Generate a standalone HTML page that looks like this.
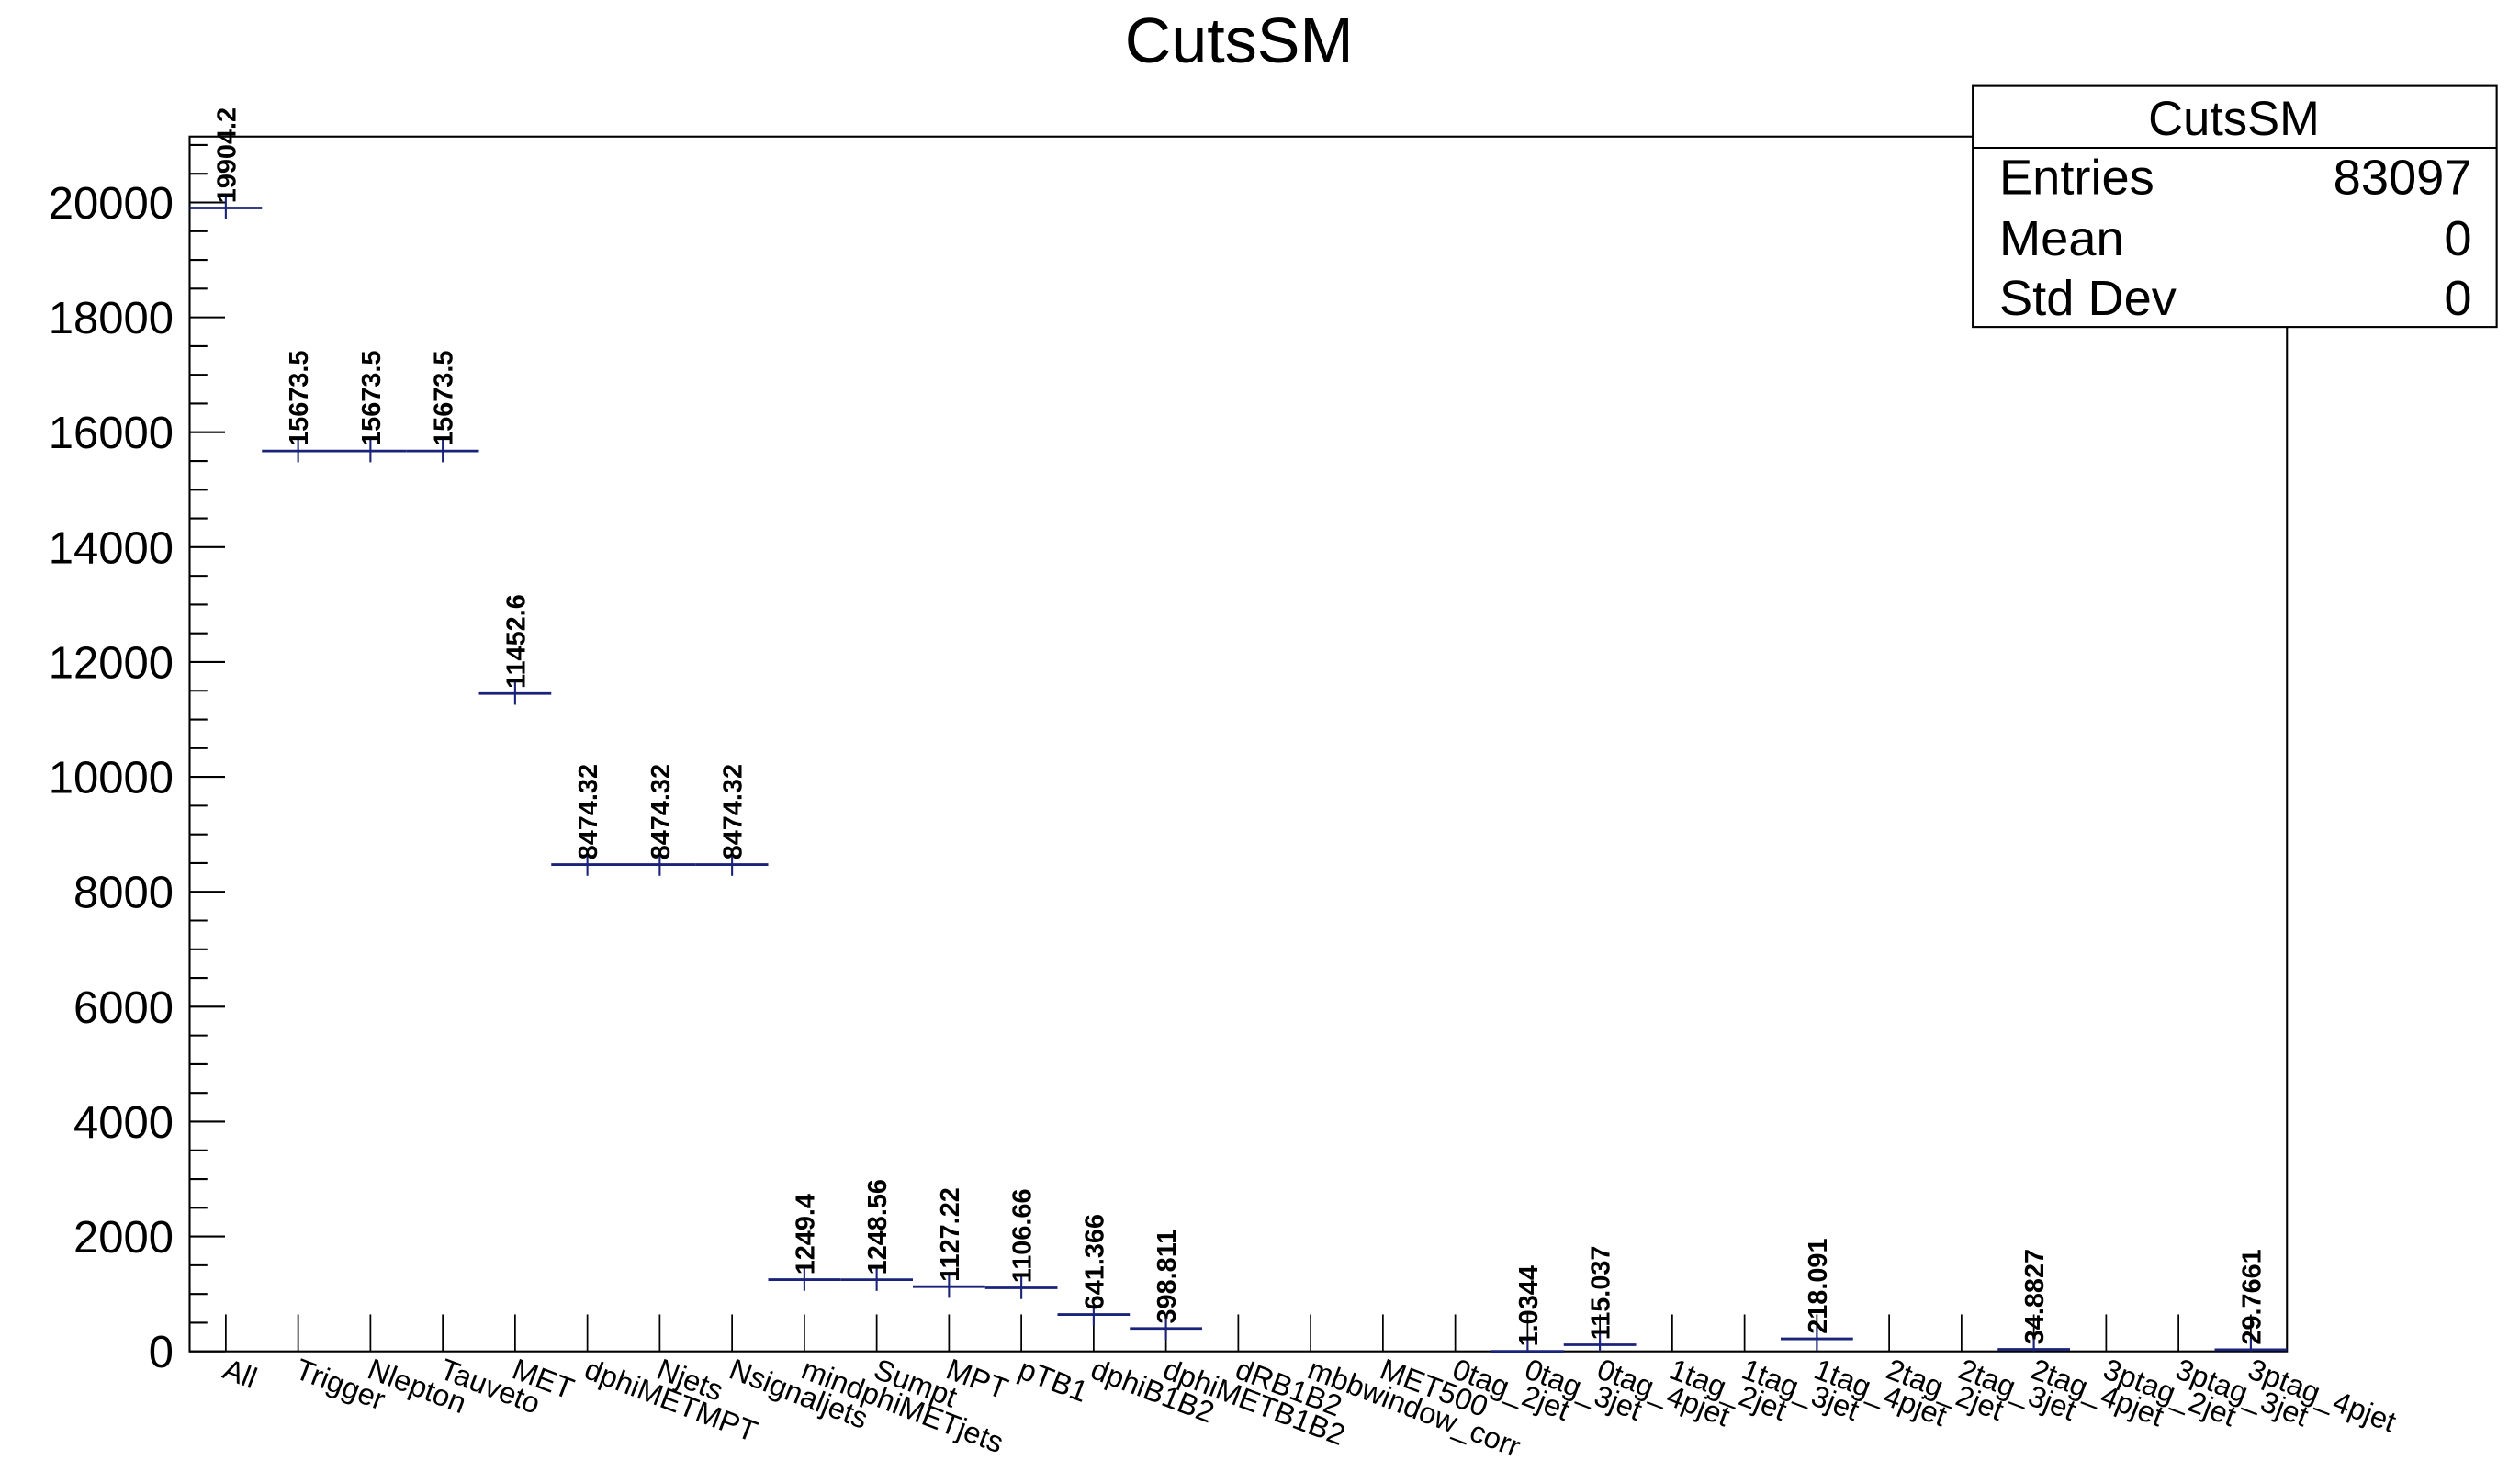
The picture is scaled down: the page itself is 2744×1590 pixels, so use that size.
<!DOCTYPE html>
<html><head><meta charset="utf-8"><style>
html,body{margin:0;padding:0;background:#fff;}
svg{display:block;}
text{font-family:"Liberation Sans",Arial,sans-serif;}
</style></head><body>
<svg id="chart" width="2744" height="1590" viewBox="0 0 1568 908.6" preserveAspectRatio="none" xmlns="http://www.w3.org/2000/svg">
<rect x="0" y="0" width="1568" height="909" fill="#fff"/>
<text x="771" y="39" font-size="40" text-anchor="middle">CutsSM</text>
<g id="plot"></g>
<g>
<rect x="1227.5" y="53.5" width="326" height="150" fill="#fff" stroke="#000" stroke-width="1.2"/>
<line x1="1227.5" y1="92" x2="1553.5" y2="92" stroke="#000" stroke-width="1.2"/>
<text x="1390" y="84" font-size="30" text-anchor="middle">CutsSM</text>
<text x="1244" y="121" font-size="31">Entries</text>
<text x="1538" y="121" font-size="31" text-anchor="end">83097</text>
<text x="1244" y="159" font-size="31">Mean</text>
<text x="1538" y="159" font-size="31" text-anchor="end">0</text>
<text x="1244" y="196" font-size="31">Std Dev</text>
<text x="1538" y="196" font-size="31" text-anchor="end">0</text>
</g>
</svg>
<script>
const categories = ["All","Trigger","Nlepton","Tauveto","MET","dphiMETMPT","Njets","Nsignaljets","mindphiMETjets","Sumpt","MPT","pTB1","dphiB1B2","dphiMETB1B2","dRB1B2","mbbwindow_corr","MET500","0tag_2jet","0tag_3jet","0tag_4pjet","1tag_2jet","1tag_3jet","1tag_4pjet","2tag_2jet","2tag_3jet","2tag_4pjet","3ptag_2jet","3ptag_3jet","3ptag_4pjet"];
const values = [19904.2,15673.5,15673.5,15673.5,11452.6,8474.32,8474.32,8474.32,1249.4,1248.56,1127.22,1106.66,641.366,398.811,0,0,0,0,1.0344,115.037,0,0,218.091,0,0,34.8827,0,0,29.7661];
const valueLabels = ["19904.2","15673.5","15673.5","15673.5","11452.6","8474.32","8474.32","8474.32","1249.4","1248.56","1127.22","1106.66","641.366","398.811","","","","","1.0344","115.037","","","218.091","","","34.8827","","","29.7661"];
const yTicks = [0,2000,4000,6000,8000,10000,12000,14000,16000,18000,20000];

const NS="http://www.w3.org/2000/svg";
const L=118,R=1423,T=85,B=841;
const yMax=(B-T)/((B-126)/20000);
function y(v){return B-(B-126)*v/20000;}
const bw=(R-L)/categories.length;
function xc(i){return L+bw*(i+0.5);}
const g=document.getElementById('plot');
function mk(tag,attrs){const e=document.createElementNS(NS,tag);for(const k in attrs)e.setAttribute(k,attrs[k]);g.appendChild(e);return e;}

const frame=mk('rect',{x:L,y:T,width:R-L,height:B-T,fill:'none',stroke:'#000','stroke-width':1.2});



for(let v=0; v<=yMax; v+=500){
  const major=(v%2000===0);
  const t=mk('line',{x1:L,y1:y(v),x2:L+(major?22:11),y2:y(v),stroke:'#000','stroke-width':1.2});
  
  
}
yTicks.forEach(v=>{
  const t=mk('text',{x:108,y:y(v)+10,'font-size':28,'text-anchor':'end'});
  t.textContent=v;
  
  
});

categories.forEach((c,i)=>{
  const x=xc(i);
  const tk=mk('line',{x1:x,y1:B,x2:x,y2:B-23,stroke:'#000','stroke-width':1});
  
  
  const lb=mk('text',{x:0,y:0,'font-size':18.5,transform:`translate(${x-3},${857}) rotate(21)`});
  lb.textContent=c;
  
  
  const v=values[i];
  if(v>0){
    const yy=y(v);
    const h=mk('line',{x1:L+bw*i,y1:yy,x2:L+bw*(i+1),y2:yy,stroke:'#1a237a','stroke-width':1.6});
    
    
    const e=mk('line',{x1:x,y1:Math.max(yy-7,T),x2:x,y2:Math.min(yy+7,B),stroke:'#1a237a','stroke-width':1.2});
    
    
  }
  if(valueLabels[i]){
    const ty=Math.min(y(v)-3,B-3);
    const vl=mk('text',{x:0,y:0,'font-size':16.5,'font-weight':'bold',transform:`translate(${x+6},${ty}) rotate(-90)`});
    vl.textContent=valueLabels[i];
    
    
  }
});
</script>
</body></html>
